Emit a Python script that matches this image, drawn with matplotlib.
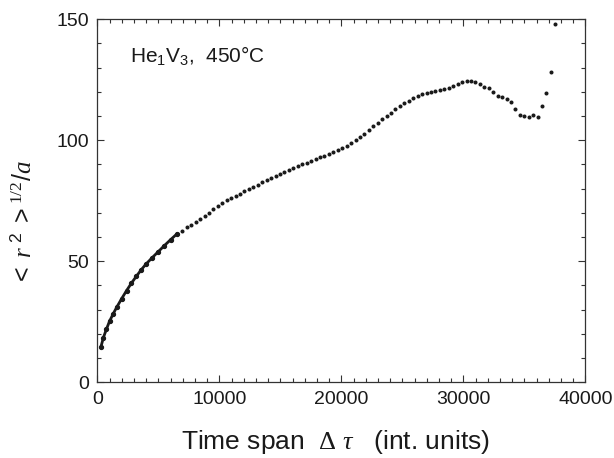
import matplotlib
matplotlib.use("Agg")
import matplotlib.pyplot as plt
from matplotlib.ticker import MultipleLocator

plt.rcParams['font.family'] = ['Liberation Sans', 'DejaVu Sans']
plt.rcParams['mathtext.fontset'] = 'custom'
plt.rcParams['mathtext.rm'] = 'Liberation Sans'
plt.rcParams['mathtext.it'] = 'Liberation Serif:italic'
plt.rcParams['mathtext.bf'] = 'Liberation Sans:bold'
plt.rcParams['mathtext.cal'] = 'Liberation Serif'

# early, densely sampled part (drawn as a continuous trace)
early_t = [300, 500, 750, 1000, 1300, 1600, 2000, 2400, 2800, 3200,
           3600, 4000, 4500, 5000, 5500, 6000, 6500]
early_r = [14.7, 18.5, 22.0, 25.2, 28.3, 31.1, 34.6, 37.9, 41.0, 43.8,
           46.5, 48.9, 51.5, 54.0, 56.5, 58.9, 61.2]

# later, sparsely sampled part (individual dots)
late_t = [6967, 7331, 7695, 8059, 8423, 8787, 9151, 9515, 9879, 10243,
          10607, 10971, 11335, 11699, 12063, 12427, 12791, 13155, 13519, 13883,
          14247, 14611, 14975, 15339, 15703, 16067, 16431, 16795, 17159, 17523,
          17887, 18251, 18615, 18979, 19343, 19707, 20071, 20435, 20799, 21163,
          21527, 21891, 22255, 22619, 22983, 23347, 23711, 24075, 24439, 24803,
          25167, 25531, 25895, 26259, 26623, 26987, 27351, 27715, 28079, 28443,
          28807, 29171, 29535, 29899, 30263, 30627, 30991, 31355, 31719, 32083,
          32447, 32811, 33175, 33539, 33903, 34267, 34631, 34995, 35359, 35723,
          36087, 36451, 36815, 37179, 37543]
late_r = [62.6, 64.0, 65.1, 66.3, 67.5, 68.8, 70.1, 71.4, 72.8, 74.2,
          75.3, 76.2, 77.1, 78.0, 78.9, 79.8, 80.7, 81.7, 82.6, 83.5,
          84.4, 85.2, 86.1, 86.9, 87.8, 88.5, 89.3, 90.1, 90.8, 91.5,
          92.2, 93.0, 93.7, 94.3, 95.1, 95.9, 96.7, 97.7, 98.8, 100.0,
          101.2, 102.6, 104.3, 105.9, 107.3, 108.6, 110.0, 111.3, 112.8, 114.3,
          115.4, 116.4, 117.4, 118.2, 119.0, 119.7, 120.1, 120.4, 120.6, 121.0,
          121.7, 122.5, 123.3, 124.0, 124.4, 124.5, 124.1, 123.1, 122.2, 121.5,
          120.1, 118.3, 118.0, 117.1, 115.8, 113.1, 110.5, 110.2, 109.5, 110.5,
          109.8, 114.0, 119.5, 128.4, 147.9]

ink = '#1a1a1a'

fig = plt.figure(figsize=(6.14, 4.58), dpi=100)
ax = fig.add_axes([0.1585, 0.1653, 0.7948, 0.7926])

ax.plot(early_t, early_r, '-', color=ink, linewidth=2.0, marker='o', markersize=2.8)
ax.plot(late_t, late_r, 'o', color=ink, markersize=2.9, markeredgewidth=0)

ax.set_xlim(0, 40000)
ax.set_ylim(0, 150)
ax.xaxis.set_major_locator(MultipleLocator(10000))
ax.xaxis.set_minor_locator(MultipleLocator(1000))
ax.yaxis.set_major_locator(MultipleLocator(50))
ax.yaxis.set_minor_locator(MultipleLocator(10))
ax.tick_params(which='both', direction='in', top=True, right=True,
               color='#333333', width=0.8, labelsize=14, labelcolor=ink)
ax.tick_params(which='major', length=5, pad=6)
ax.tick_params(which='minor', length=3)
for s in ax.spines.values():
    s.set_color('#333333')
    s.set_linewidth(0.9)

ax.set_xlabel(r'Time span  $\mathcal{\Delta}\ \tau$   (int. units)', fontsize=19, color=ink)
ax.xaxis.set_label_coords(0.487, -0.125)
ax.set_ylabel(r'$<\ r^{\ 2}\ >^{\mathcal{1/2}}/a$', fontsize=18, color=ink)
ax.yaxis.set_label_coords(-0.125, 0.44)

ax.text(2700, 135, r'He$_1$V$_3$,  450°C', fontsize=15, color=ink, ha='left', va='center')

fig.savefig('out.png', dpi=100, facecolor='white')
